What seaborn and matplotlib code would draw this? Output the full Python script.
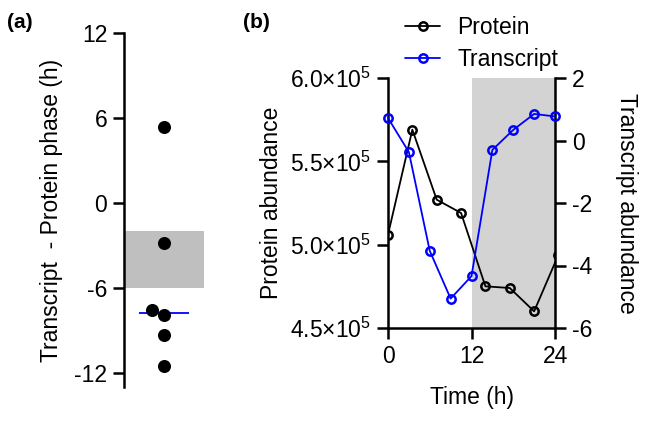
import numpy as np
import pandas as pd
import matplotlib
matplotlib.use("Agg")
import matplotlib.pyplot as plt
from matplotlib.lines import Line2D
from matplotlib.ticker import FuncFormatter
import seaborn as sns

# ---- data ----
# (a) phase difference per gene, transcript minus protein (h)
phase_diff = [5.36, -2.83, -7.95, -7.55, -9.36, -11.53]
band_a = (-6.0, -2.0)

# (b) time courses
protein_time = [0, 3.5, 7, 10.5, 14, 17.5, 21, 24.5]
protein_abund = [5.06e5, 5.69e5, 5.27e5, 5.19e5, 4.75e5, 4.74e5, 4.60e5, 4.94e5]
transcript_time = [0, 3, 6, 9, 12, 15, 18, 21, 24]
transcript_abund = [0.72, -0.37, -3.53, -5.06, -4.34, -0.30, 0.34, 0.85, 0.77]
dark_phase = (12, 24)

sns.set_theme(style="ticks")
plt.rcParams["font.family"] = ["Liberation Sans", "DejaVu Sans"]
plt.rcParams["mathtext.fontset"] = "custom"
plt.rcParams["mathtext.rm"] = "Liberation Sans"
plt.rcParams["mathtext.it"] = "Liberation Sans:italic"
plt.rcParams["axes.unicode_minus"] = False
for key in ["text.color", "axes.labelcolor", "xtick.color", "ytick.color"]:
    plt.rcParams[key] = "black"

FS = 16.5
LW = 1.8
blue = "#0000ff"

fig = plt.figure(figsize=(6.47, 4.22), dpi=100)
W, H = 647, 422


def px_axes(x0, x1, y0, y1):
    return fig.add_axes([x0 / W, 1 - y1 / H, (x1 - x0) / W, (y1 - y0) / H])


def style_ticks(ax, axis="both"):
    ax.tick_params(axis=axis, labelsize=FS, width=LW, length=8, pad=4, color="black")


# =========================================================
# (a) phase difference scatter
# =========================================================
ax_a = px_axes(124, 204, 33, 387)
df_a = pd.DataFrame({"g": ["x"] * len(phase_diff), "diff": phase_diff})
ax_a.axhspan(*band_a, color="#bfbfbf", lw=0, zorder=0)
sns.swarmplot(data=df_a, x="g", y="diff", ax=ax_a, color="black", size=9.4, zorder=3)
med = np.median(phase_diff)
ax_a.hlines(med, -0.31, 0.31, color=blue, lw=1.3, zorder=2)
ax_a.set_xlim(-0.5, 0.5)
ax_a.set_ylim(-13, 12)
ax_a.set_yticks([12, 6, 0, -6, -12])
ax_a.set_xticks([])
ax_a.set_xlabel("")
ax_a.set_ylabel("Transcript  - Protein phase (h)", fontsize=FS, labelpad=8)
for s in ["top", "right", "bottom"]:
    ax_a.spines[s].set_visible(False)
ax_a.spines["left"].set_linewidth(LW)
ax_a.spines["left"].set_color("black")
style_ticks(ax_a, "y")

# =========================================================
# (b) protein and transcript time courses
# =========================================================
ax_b = px_axes(388, 555, 78, 328)
ax_t = ax_b.twinx()
ax_b.axvspan(*dark_phase, color="#d3d3d3", lw=0, zorder=0)

sns.lineplot(x=protein_time, y=protein_abund, ax=ax_b, color="black", lw=1.3,
             marker="o", markersize=6, markerfacecolor="none",
             markeredgecolor="black", markeredgewidth=1.8, zorder=3)
sns.lineplot(x=transcript_time, y=transcript_abund, ax=ax_t, color=blue, lw=1.3,
             marker="o", markersize=6, markerfacecolor="none",
             markeredgecolor=blue, markeredgewidth=1.8, zorder=3, clip_on=False)

ax_b.set_xlim(0, 24)
ax_b.set_xticks([0, 12, 24])
ax_b.set_ylim(4.5e5, 6.0e5)
ax_b.set_yticks([4.5e5, 5.0e5, 5.5e5, 6.0e5])
ax_b.yaxis.set_major_formatter(FuncFormatter(lambda v, p: f"{v / 1e5:.1f}×10$^5$"))
ax_t.set_ylim(-6, 2)
ax_t.set_yticks([-6, -4, -2, 0, 2])

ax_b.set_xlabel("Time (h)", fontsize=FS, labelpad=13)
ax_b.set_ylabel("Protein abundance", fontsize=FS, labelpad=5)
ax_t.set_ylabel("Transcript abundance", fontsize=FS, rotation=270, labelpad=33)

for s in ["top", "right"]:
    ax_b.spines[s].set_visible(False)
for s in ["top", "left", "bottom"]:
    ax_t.spines[s].set_visible(False)
for a, sides in [(ax_b, ["left", "bottom"]), (ax_t, ["right"])]:
    for s in sides:
        a.spines[s].set_linewidth(LW)
        a.spines[s].set_color("black")
style_ticks(ax_b)
style_ticks(ax_t, "y")

handles = [
    Line2D([], [], color="black", lw=1.3, marker="o", markersize=6,
           markerfacecolor="none", markeredgewidth=1.8, label="Protein"),
    Line2D([], [], color=blue, lw=1.3, marker="o", markersize=6,
           markerfacecolor="none", markeredgewidth=1.8, label="Transcript"),
]
ax_t.legend(handles=handles, loc="lower left",
            bbox_to_anchor=((394 - 388) / 167, 1.0 - 4 / 250),
            frameon=False, fontsize=FS, handlelength=1.5, handletextpad=0.75,
            labelspacing=0.38, borderpad=0.2, borderaxespad=0.3)

fig.text(7 / W, 1 - 23 / H, "(a)", fontsize=15, fontweight="bold", va="center")
fig.text(243 / W, 1 - 22 / H, "(b)", fontsize=15, fontweight="bold", va="center")

fig.savefig("out.png", dpi=100)
